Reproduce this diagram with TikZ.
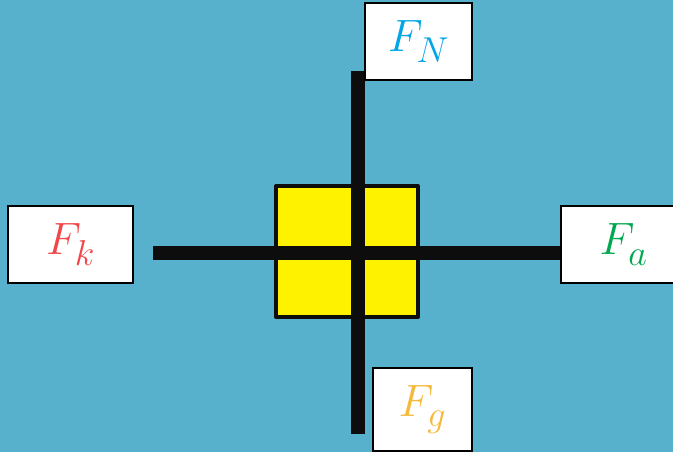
\RequirePackage{fix-cm}
\documentclass[tikz,border=0pt]{standalone}
\usepackage{tikz}
\definecolor{skyback}{HTML}{57B1CC}
\definecolor{fncol}{HTML}{00A6E6}
\definecolor{fkcol}{HTML}{F2474A}
\definecolor{facol}{HTML}{00A84F}
\definecolor{fgcol}{HTML}{F5BA3C}
\newcommand{\flabel}[2]{\textcolor{#1}{$F_{\raisebox{-3pt}{\fontsize{27}{27}\selectfont$#2$}}$}}
\tikzset{
  forcebox/.style={draw=black, fill=white, line width=1.5pt, inner sep=0pt, font=\fontsize{34}{40}\selectfont},
  bar/.style={line width=10.5pt, line cap=butt, black!95},
}

\begin{document}
\begin{tikzpicture}[x=0.75pt,y=-0.75pt]
			%%%%% START %%%%%
			\fill[skyback] (0,0) rectangle (673,452);
			\useasboundingbox (0,0) rectangle (673,452);
			
			\node[draw=black!95, fill=yellow, line width=3pt, line join=round, minimum width=106.5pt, minimum height=98.25pt] (blk) at (347,251.5) {};
			
			\coordinate (top) at (358,71);
			\coordinate (bot) at (358,434);
			\coordinate (lft) at (153,253);
			\coordinate (rgt) at (580,253);
			\draw[bar] (top) -- (bot);
			\draw[bar] (lft) -- (rgt);
			
			\node[forcebox, minimum width=80.25pt, minimum height=57.75pt] (fn) at (418.5,41.5) {\flabel{fncol}{N}};
			\node[forcebox, minimum width=93.75pt, minimum height=57.75pt] (fk) at (70.5,244.5) {\flabel{fkcol}{k}};
			\node[forcebox, minimum width=93.75pt, minimum height=57.75pt] (fa) at (623.5,244.5) {\flabel{facol}{a}};
			\node[forcebox, minimum width=74.25pt, minimum height=62.25pt] (fg) at (422.5,409.5) {\flabel{fgcol}{g}};
			%%%%% END %%%%%
\end{tikzpicture}
\end{document}
